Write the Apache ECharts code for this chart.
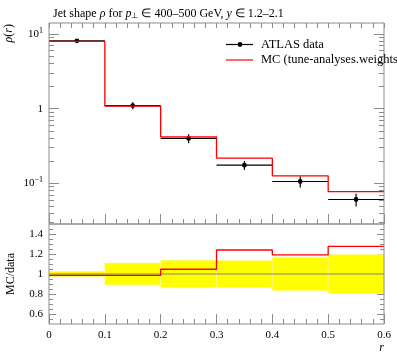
<!DOCTYPE html>
<html>
<head>
<meta charset="utf-8">
<script src="https://cdn.jsdelivr.net/npm/echarts@6/dist/echarts.min.js"></script>
<style>
html,body{margin:0;padding:0;background:#fff;}
#chart{width:397px;height:358px;}
</style>
</head>
<body>
<div id="chart"></div>
<script>
// ---- data ----
const binEdges = [0, 0.1, 0.2, 0.3, 0.4, 0.5, 0.6];
const dataValues = [8.1, 1.10, 0.40, 0.175, 0.1057, 0.0607];
const dataRelErr = [0.027, 0.11, 0.138, 0.135, 0.168, 0.195];
const mcValues = [7.99, 1.085, 0.419, 0.217, 0.126, 0.0775];
const mainYTickValues = [0.1, 1, 10];
const mainYMinorTickValues = [0.03,0.04,0.05,0.06,0.07,0.08,0.09,0.2,0.3,0.4,0.5,0.6,0.7,0.8,0.9,2,3,4,5,6,7,8,9];
const ratioYTickValues = [0.6, 0.8, 1, 1.2, 1.4];
const ratioYMinorTickValues = [0.55,0.65,0.7,0.75,0.85,0.9,0.95,1.05,1.1,1.15,1.25,1.3,1.35,1.45];
const xTickLabels = ['0', '0.1', '0.2', '0.3', '0.4', '0.5', '0.6'];

const FONT = 'Liberation Serif';
const FRAME = '#8c8c8c';

const chart = echarts.init(document.getElementById('chart'), null, {renderer: 'canvas'});

const ratioValues = mcValues.map((v, i) => v / dataValues[i]);
const stepPts = (vals) => {
  const pts = vals.map((v, i) => [binEdges[i], v]);
  pts.push([binEdges[binEdges.length - 1], vals[vals.length - 1]]);
  return pts;
};

const logFmt = (v) => {
  const e = Math.round(Math.log10(v));
  if (e === 0) return '1';
  return '10{sup|' + (e < 0 ? '\u2212' + (-e) : e) + '}';
};

function yAxisBase(grid, type, min, max, pos) {
  return {
    type: type, gridIndex: grid, min: min, max: max, position: pos,
    axisLine: {show: false}, splitLine: {show: false}, minorTick: {show: false},
    axisLabel: {show: false}, axisTick: {show: false}
  };
}

const yAxes = [];
let a = yAxisBase(0, 'log', 0.0285, 14.06, 'left');
a.axisTick = {show: true, inside: true, length: 10, customValues: mainYTickValues, lineStyle: {color: FRAME}};
a.axisLabel = {show: true, customValues: mainYTickValues, formatter: logFmt, margin: 6,
  color: '#000', fontFamily: FONT, fontSize: 11,
  rich: {sup: {fontSize: 8, verticalAlign: 'top', padding: [0,0,7,0], fontFamily: FONT, color:'#000'}}};
yAxes.push(a);
a = yAxisBase(0, 'log', 0.0285, 14.06, 'left');
a.axisTick = {show: true, inside: true, length: 5, customValues: mainYMinorTickValues, lineStyle: {color: FRAME}};
yAxes.push(a);
a = yAxisBase(0, 'log', 0.0285, 14.06, 'right');
a.axisTick = {show: true, inside: true, length: 10, customValues: mainYTickValues, lineStyle: {color: FRAME}};
yAxes.push(a);
a = yAxisBase(0, 'log', 0.0285, 14.06, 'right');
a.axisTick = {show: true, inside: true, length: 5, customValues: mainYMinorTickValues, lineStyle: {color: FRAME}};
yAxes.push(a);
a = yAxisBase(1, 'value', 0.5, 1.5, 'left');
a.axisTick = {show: true, inside: true, length: 7, customValues: ratioYTickValues, lineStyle: {color: FRAME}};
a.axisLabel = {show: true, customValues: ratioYTickValues, margin: 6, color: '#000', fontFamily: FONT, fontSize: 11,
  formatter: (v) => String(Math.round(v * 10) / 10)};
yAxes.push(a);
a = yAxisBase(1, 'value', 0.5, 1.5, 'left');
a.axisTick = {show: true, inside: true, length: 4, customValues: ratioYMinorTickValues, lineStyle: {color: FRAME}};
yAxes.push(a);
a = yAxisBase(1, 'value', 0.5, 1.5, 'right');
a.axisTick = {show: true, inside: true, length: 7, customValues: ratioYTickValues, lineStyle: {color: FRAME}};
yAxes.push(a);
a = yAxisBase(1, 'value', 0.5, 1.5, 'right');
a.axisTick = {show: true, inside: true, length: 4, customValues: ratioYMinorTickValues, lineStyle: {color: FRAME}};
yAxes.push(a);

function xAxisBase(grid, pos, majorLen, minorLen, labels) {
  return {
    type: 'value', gridIndex: grid, position: pos, min: 0, max: 0.6, interval: 0.1,
    axisLine: {show: false}, splitLine: {show: false},
    axisTick: {show: true, inside: true, length: majorLen, lineStyle: {color: FRAME}},
    minorTick: {show: true, splitNumber: 5, length: minorLen, lineStyle: {color: FRAME}},
    axisLabel: labels ? {show: true, margin: 6, color: '#000', fontFamily: FONT, fontSize: 11,
      formatter: (v) => xTickLabels[Math.round(v * 10)]} : {show: false}
  };
}
const xAxes = [
  xAxisBase(0, 'bottom', 10, 5, false),
  xAxisBase(0, 'top', 5, 5, false),
  xAxisBase(1, 'bottom', 10, 5, true)
];

const option = {
  animation: false,
  backgroundColor: '#fff',
  title: {
    left: 48, top: 3,
    text: 'Jet shape {i|ρ} for {i|p}{sub|⊥} ∈ 400–500 GeV, {i|y} ∈ 1.2–2.1',
    textStyle: {fontFamily: FONT, fontSize: 12, fontWeight: 'normal', color: '#000',
      rich: {i: {fontStyle: 'italic', fontFamily: FONT, fontSize: 12, color: '#000'},
             sub: {fontFamily: FONT, fontSize: 8, verticalAlign: 'bottom', padding: [4,0,0,0], color: '#000'}}}
  },
  grid: [
    {left: 49, top: 23, width: 335, height: 201, show: true, borderColor: FRAME, borderWidth: 1, backgroundColor: 'transparent', z: 10},
    {left: 49, top: 224, width: 335, height: 100, show: true, borderColor: FRAME, borderWidth: 1, backgroundColor: 'transparent', z: 10}
  ],
  xAxis: xAxes,
  yAxis: yAxes,
  series: [
    {
      name: 'ATLAS data', type: 'custom', xAxisIndex: 0, yAxisIndex: 0, z: 2,
      data: dataValues.map((v, i) => [binEdges[i], binEdges[i + 1], v, v * (1 - dataRelErr[i]), v * (1 + dataRelErr[i])]),
      encode: {x: [0, 1], y: [2, 3, 4]},
      renderItem: function (params, api) {
        const x0 = api.value(0), x1 = api.value(1), y = api.value(2);
        const xm = (x0 + x1) / 2;
        const pL = api.coord([x0, y]), pR = api.coord([x1, y]), pM = api.coord([xm, y]);
        const pLo = api.coord([xm, api.value(3)]), pHi = api.coord([xm, api.value(4)]);
        return {type: 'group', children: [
          {type: 'line', shape: {x1: pL[0], y1: pL[1], x2: pR[0], y2: pR[1]}, style: {stroke: '#000', lineWidth: 1.2}},
          {type: 'line', shape: {x1: pM[0], y1: pLo[1], x2: pM[0], y2: pHi[1]}, style: {stroke: '#000', lineWidth: 1.2}},
          {type: 'circle', shape: {cx: pM[0], cy: pM[1], r: 2.4}, style: {fill: '#000'}}
        ]};
      }
    },
    {
      name: 'MC', type: 'line', xAxisIndex: 0, yAxisIndex: 0, z: 3,
      step: 'end', symbol: 'none', data: stepPts(mcValues),
      lineStyle: {color: '#ff0000', width: 1.3}
    },
    {
      name: 'band', type: 'custom', xAxisIndex: 2, yAxisIndex: 4, z: 1,
      data: dataRelErr.map((e, i) => [binEdges[i], binEdges[i + 1], 1 - e, 1 + e]),
      encode: {x: [0, 1], y: [2, 3]},
      renderItem: function (params, api) {
        const p0 = api.coord([api.value(0), api.value(3)]);
        const p1 = api.coord([api.value(1), api.value(2)]);
        return {type: 'rect', shape: {x: p0[0], y: p0[1], width: p1[0] - p0[0], height: p1[1] - p0[1]},
          style: {fill: '#ffff00', stroke: '#fff7a0', lineWidth: 0.6}};
      }
    },
    {
      name: 'dataRef', type: 'line', xAxisIndex: 2, yAxisIndex: 4, z: 2,
      symbol: 'none', data: [[binEdges[0], 1], [binEdges[binEdges.length - 1], 1]],
      lineStyle: {color: '#777', width: 0.9}
    },
    {
      name: 'ratio', type: 'line', xAxisIndex: 2, yAxisIndex: 4, z: 3,
      step: 'end', symbol: 'none', data: stepPts(ratioValues),
      lineStyle: {color: '#ff0000', width: 1.3}
    }
  ],
  graphic: [
    {type: 'line', shape: {x1: 226, y1: 44.5, x2: 253, y2: 44.5}, style: {stroke: '#000', lineWidth: 1.2}, z: 20},
    {type: 'circle', shape: {cx: 240, cy: 44.5, r: 2.4}, style: {fill: '#000'}, z: 20},
    {type: 'text', x: 261, y: 44.5, style: {text: 'ATLAS data', font: '12.5px "Liberation Serif"', fill: '#000', textVerticalAlign: 'middle'}, z: 20},
    {type: 'line', shape: {x1: 226, y1: 60, x2: 253, y2: 60}, style: {stroke: '#ff0000', lineWidth: 1.2}, z: 20},
    {type: 'text', x: 261, y: 60, style: {text: 'MC (tune-analyses.weights)', font: '12.5px "Liberation Serif"', fill: '#000', textVerticalAlign: 'middle'}, z: 20},
    {type: 'text', x: 9, y: 24, rotation: Math.PI / 2,
      style: {text: '{i|ρ}(​{i|r})', font: '12px "Liberation Serif"', fill: '#000', textAlign: 'right', textVerticalAlign: 'middle',
        rich: {i: {fontStyle: 'italic', fontFamily: FONT, fontSize: 12}}}},
    {type: 'text', x: 11, y: 274, rotation: Math.PI / 2,
      style: {text: 'MC/data', font: '12px "Liberation Serif"', fill: '#000', textAlign: 'center', textVerticalAlign: 'middle'}},
    {type: 'text', x: 384, y: 348,
      style: {text: 'r', font: 'italic 12px "Liberation Serif"', fill: '#000', textAlign: 'right', textVerticalAlign: 'middle'}}
  ]
};
chart.setOption(option);
</script>
</body>
</html>
